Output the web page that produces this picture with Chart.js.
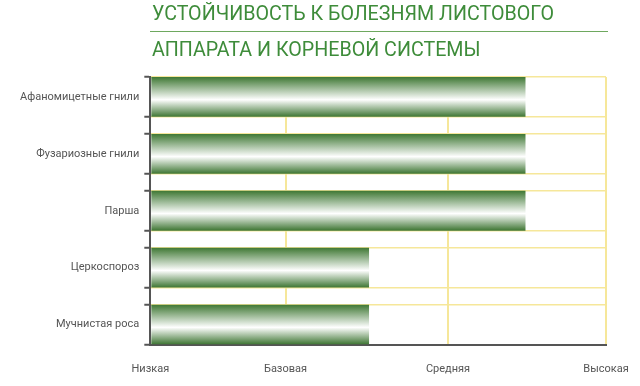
<!DOCTYPE html>
<html>
<head>
<meta charset="utf-8">
<script src="https://cdn.jsdelivr.net/npm/chart.js@4"></script>
<style>
  body { margin: 0; background: #fff; }
  #wrap { position: relative; width: 640px; height: 386px; }
  .ttl { position: absolute; left: 152px; font-family: Roboto, sans-serif; font-size: 20px; color: #3e8c3a; white-space: nowrap; line-height: 1; transform-origin: left top; transform: scaleX(0.983); }
  #rule { position: absolute; left: 150px; top: 31px; width: 458px; height: 1px; background: #6ea85f; }
</style>
</head>
<body>
<div id="wrap">
  <div class="ttl" style="top:3px">УСТОЙЧИВОСТЬ К БОЛЕЗНЯМ ЛИСТОВОГО</div>
  <div id="rule"></div>
  <div class="ttl" style="top:39px">АППАРАТА И КОРНЕВОЙ СИСТЕМЫ</div>
  <canvas id="chart"></canvas>
</div>
<script>
// болезни и уровни устойчивости
const diseases = ['Афаномицетные гнили', 'Фузариозные гнили', 'Парша', 'Церкоспороз', 'Мучнистая роса'];
const resistance = [2.47, 2.47, 2.47, 1.44, 1.44];
const levelNames = ['Низкая', 'Базовая', 'Средняя', 'Высокая'];
const levelPositions = [0, 0.89, 1.96, 3];

const HALF = 0.35; // половина высоты полосы в единицах оси
const yTicks = [];
diseases.forEach((d, i) => yTicks.push(i - HALF, i, i + HALF));

const grey = '#555';
const yellow = '#f6e79a';

function barGradient(ctx) {
  const chart = ctx.chart;
  const ys = chart.scales.y;
  if (!chart.chartArea || !ys) return '#4a7d3a';
  const top = ys.getPixelForValue(ctx.dataIndex - HALF);
  const bot = ys.getPixelForValue(ctx.dataIndex + HALF);
  const g = chart.ctx.createLinearGradient(0, top, 0, bot);
  g.addColorStop(0, '#3f7834');
  g.addColorStop(0.57, '#ffffff');
  g.addColorStop(1, '#3d7532');
  return g;
}

new Chart(document.getElementById('chart'), {
  type: 'bar',
  data: {
    datasets: [{
      data: resistance.map((v, i) => ({ x: v, y: i })),
      backgroundColor: barGradient,
      borderWidth: 0,
      categoryPercentage: 1,
      // минимальный шаг считается по тикам краёв (1 - 2*HALF)
      barPercentage: (2 * HALF) / (1 - 2 * HALF)
    }]
  },
  options: {
    indexAxis: 'y',
    responsive: true, maintainAspectRatio: false,
    animation: false,
    layout: { padding: { top: 77, right: 34, bottom: -8.6, left: 15 } },
    plugins: { legend: { display: false }, tooltip: { enabled: false } },
    scales: {
      x: {
        type: 'linear', min: 0, max: 3,
        afterBuildTicks(s) { s.ticks = levelPositions.map(v => ({ value: v })); },
        // подписи могут выходить за край, отступ задаёт layout.padding
        afterFit(s) { s.paddingLeft = 0; s.paddingRight = 0; },
        ticks: {
          autoSkip: false, maxRotation: 0, padding: 24.5, color: grey,
          font: { family: 'Roboto', size: 11, lineHeight: 0.1 },
          callback(v) { return levelNames[levelPositions.indexOf(v)]; }
        },
        grid: {
          drawTicks: false,
          color: c => (c.tick && c.tick.value === 0 ? 'rgba(0,0,0,0)' : yellow),
          lineWidth: 2
        },
        border: { color: grey, width: 2 }
      },
      y: {
        type: 'linear', reverse: true, offset: false,
        min: -HALF, max: diseases.length - 1 + HALF,
        afterBuildTicks(s) { s.ticks = yTicks.map(v => ({ value: v })); },
        ticks: {
          autoSkip: false, padding: 5, color: grey,
          font: { family: 'Roboto', size: 11 },
          callback(v) { return Number.isInteger(v) ? diseases[v] : ''; }
        },
        grid: {
          offset: false,
          tickLength: 6,
          color: c => (c.tick && Number.isInteger(c.tick.value) ? 'rgba(0,0,0,0)' : yellow),
          tickColor: c => (c.tick && Number.isInteger(c.tick.value) ? 'rgba(0,0,0,0)' : grey),
          lineWidth: 1.5,
          tickWidth: 2
        },
        border: { color: grey, width: 2 }
      }
    }
  }
});
</script>
</body>
</html>
